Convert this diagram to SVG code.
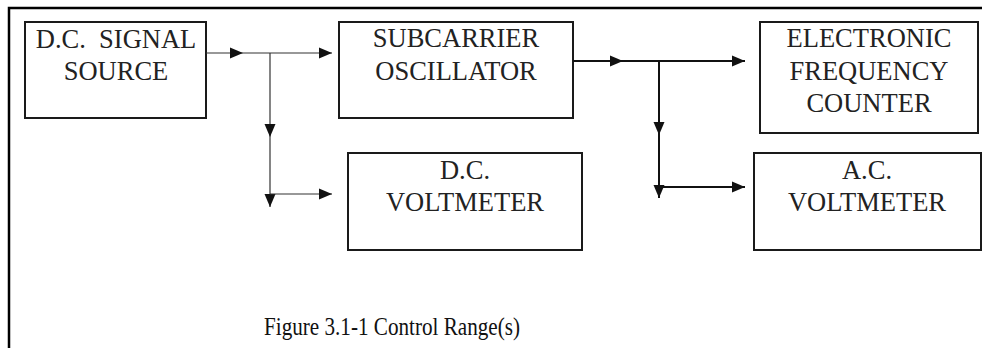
<svg xmlns="http://www.w3.org/2000/svg" width="982" height="348" viewBox="0 0 982 348">
  <style>
    .box { fill: #ffffff; stroke: #1a1a1a; stroke-width: 2; }
    .lbl { font-family: "Liberation Serif", "Times New Roman", serif; font-size: 26.5px; fill: #222222; text-anchor: middle; }
    .thin { stroke: #333333; stroke-width: 1.2; fill: none; }
    .thick { stroke: #111111; stroke-width: 2; fill: none; }
    .cap { font-family: "Liberation Serif", "Times New Roman", serif; font-size: 26px; fill: #111111; }
  </style>
  <defs>
    <marker id="arr" markerUnits="userSpaceOnUse" markerWidth="14" markerHeight="12" refX="13" refY="6" orient="auto">
      <path d="M0,0.5 L13,6 L0,11.5 z" fill="#111111"/>
    </marker>
  </defs>
  <rect width="982" height="348" fill="#ffffff"/>
  <path d="M9,348 V8 H982" fill="none" stroke="#000000" stroke-width="2.5"/>

  <g id="dc-signal-source">
    <rect class="box" x="25" y="22" width="181" height="96"/>
    <text class="lbl" x="116" y="48" xml:space="preserve">D.C.  SIGNAL</text>
    <text class="lbl" x="116" y="80">SOURCE</text>
  </g>
  <g id="subcarrier-oscillator">
    <rect class="box" x="339" y="22" width="234" height="96"/>
    <text class="lbl" x="456" y="47">SUBCARRIER</text>
    <text class="lbl" x="456" y="80">OSCILLATOR</text>
  </g>
  <g id="electronic-frequency-counter">
    <rect class="box" x="760" y="22" width="218" height="111"/>
    <text class="lbl" x="869" y="47">ELECTRONIC</text>
    <text class="lbl" x="869" y="80">FREQUENCY</text>
    <text class="lbl" x="869" y="112">COUNTER</text>
  </g>
  <g id="dc-voltmeter">
    <rect class="box" x="348" y="153" width="234" height="97"/>
    <text class="lbl" x="465" y="179">D.C.</text>
    <text class="lbl" x="465" y="211">VOLTMETER</text>
  </g>
  <g id="ac-voltmeter">
    <rect class="box" x="754" y="153" width="227" height="97"/>
    <text class="lbl" x="867" y="179">A.C.</text>
    <text class="lbl" x="867" y="211">VOLTMETER</text>
  </g>

  <g id="connectors">
    <line class="thin" x1="206" y1="53" x2="243" y2="53" marker-end="url(#arr)"/>
    <line class="thin" x1="243" y1="53" x2="332" y2="53" marker-end="url(#arr)"/>
    <line class="thin" x1="270" y1="53" x2="270" y2="137" marker-end="url(#arr)"/>
    <line class="thin" x1="270" y1="137" x2="270" y2="207" marker-end="url(#arr)"/>
    <line class="thin" x1="270" y1="194" x2="332" y2="194" marker-end="url(#arr)"/>

    <line class="thick" x1="573" y1="61" x2="623" y2="61" marker-end="url(#arr)"/>
    <line class="thick" x1="623" y1="61" x2="745" y2="61" marker-end="url(#arr)"/>
    <line class="thick" x1="659" y1="61" x2="659" y2="135" marker-end="url(#arr)"/>
    <line class="thick" x1="659" y1="135" x2="659" y2="198" marker-end="url(#arr)"/>
    <line class="thick" x1="659" y1="187" x2="745" y2="187" marker-end="url(#arr)"/>
  </g>

  <text class="cap" x="264" y="335" textLength="256" lengthAdjust="spacingAndGlyphs">Figure 3.1-1 Control Range(s)</text>
</svg>
